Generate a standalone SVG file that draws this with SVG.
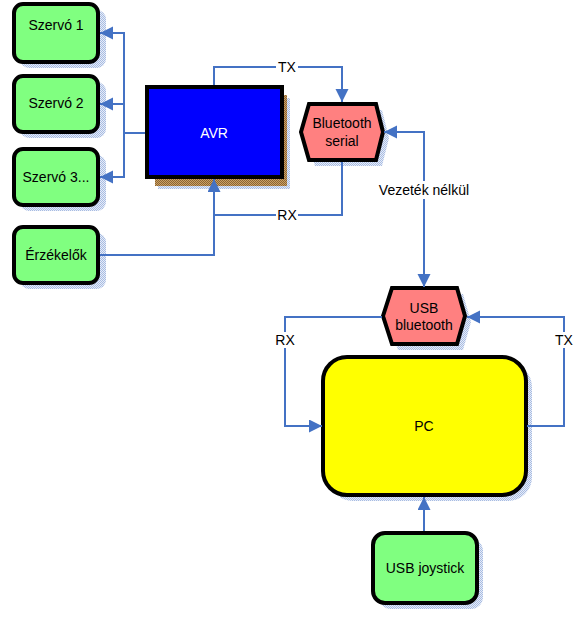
<svg xmlns="http://www.w3.org/2000/svg" width="580" height="617" viewBox="0 0 580 617">
<defs>
<pattern id="dots" width="2" height="2" patternUnits="userSpaceOnUse"><rect width="2" height="2" fill="#e6ecf8"/><rect width="1" height="1" fill="#a8bce2"/><rect x="1" y="1" width="1" height="1" fill="#a8bce2"/></pattern>
<pattern id="brown" width="2" height="2" patternUnits="userSpaceOnUse"><rect width="2" height="2" fill="#c9a265"/><rect width="1" height="1" fill="#8c6232"/><rect x="1" y="1" width="1" height="1" fill="#8c6232"/></pattern>
<marker id="ah" markerWidth="14" markerHeight="14" refX="13" refY="6.5" orient="auto-start-reverse" markerUnits="userSpaceOnUse"><path d="M0,0 L13,6.5 L0,13 Z" fill="#4472c4"/></marker>
</defs>
<style>
.box{stroke:#000;stroke-width:4}
.green{fill:#80ff80}
.sh{fill:url(#dots)}
.t{font-family:"Liberation Sans",Arial,sans-serif;font-size:14px;text-anchor:middle;fill:#000}
.w{fill:#fff}
.c{fill:none;stroke:#4472c4;stroke-width:2}
.lb{fill:#fff}
</style>
<rect width="580" height="617" fill="#fff"/>

<g id="szervo1">
<rect class="sh" x="20" y="10" width="86" height="58" rx="9"/>
<rect class="box green" x="14" y="4" width="84" height="58" rx="9"/>
<text class="t" x="56" y="30">Szervó 1</text>
</g>
<g id="szervo2">
<rect class="sh" x="20" y="82" width="86" height="56" rx="9"/>
<rect class="box green" x="14" y="76" width="84" height="56" rx="9"/>
<text class="t" x="56" y="108">Szervó 2</text>
</g>
<g id="szervo3">
<rect class="sh" x="20" y="155" width="86" height="56" rx="9"/>
<rect class="box green" x="14" y="149" width="84" height="56" rx="9"/>
<text class="t" x="56" y="182">Szervó 3...</text>
</g>
<g id="erzekelok">
<rect class="sh" x="20" y="233" width="86" height="56" rx="9"/>
<rect class="box green" x="14" y="227" width="84" height="56" rx="9"/>
<text class="t" x="56" y="260">Érzékelők</text>
</g>

<g id="avr">
<rect class="sh" x="158" y="98" width="132" height="91"/>
<rect fill="url(#brown)" x="155" y="95" width="132" height="91"/>
<rect class="box" fill="#0000ff" x="147" y="87" width="135" height="90"/>
<text class="t w" x="214" y="138">AVR</text>
</g>

<g id="bt-serial">
<polygon class="sh" points="307,138 315,110 382,110 389,138 382,166 315,166"/>
<polygon class="box" fill="#ff8080" points="301,132 309,104 376,104 383,132 376,160 309,160"/>
<text class="t" x="342" y="128">Bluetooth</text>
<text class="t" x="342" y="146">serial</text>
</g>

<g id="usb-bt">
<polygon class="sh" points="389,322 398,294 463,294 471,322 463,350 398,350"/>
<polygon class="box" fill="#ff8080" points="383,316 392,288 457,288 465,316 457,344 392,344"/>
<text class="t" x="424" y="313">USB</text>
<text class="t" x="424" y="330">bluetooth</text>
</g>

<g id="pc">
<rect class="sh" x="329" y="363" width="203" height="138" rx="24"/>
<rect class="box" fill="#ffff00" x="323" y="357" width="203" height="138" rx="24"/>
<text class="t" x="424" y="431">PC</text>
</g>

<g id="joystick">
<rect class="sh" x="379" y="539" width="104" height="70" rx="12"/>
<rect class="box green" x="373" y="533" width="104" height="70" rx="12"/>
<text class="t" x="425" y="573">USB joystick</text>
</g>

<g id="connectors">
<path class="c" d="M145,133 H124"/>
<path class="c" d="M124,133 V33 H100" marker-end="url(#ah)"/>
<path class="c" d="M124,104 H100" marker-end="url(#ah)"/>
<path class="c" d="M124,133 V177 H100" marker-end="url(#ah)"/>
<path class="c" d="M214,85 V67 H342 V102" marker-end="url(#ah)"/>
<path class="c" d="M342,162 V215 H214 V179" marker-end="url(#ah)"/>
<path class="c" d="M100,255 H214 V215"/>
<path class="c" d="M384,132 H424 V287" marker-start="url(#ah)" marker-end="url(#ah)"/>
<path class="c" d="M382,317 H285 V426 H322" marker-end="url(#ah)"/>
<path class="c" d="M527,426 H564 V317 H467" marker-end="url(#ah)"/>
<path class="c" d="M424,531 V497" marker-end="url(#ah)"/>
<rect class="lb" x="276" y="59" width="22" height="16"/>
<text class="t" x="287" y="72">TX</text>
<rect class="lb" x="276" y="207" width="22" height="16"/>
<text class="t" x="287" y="220">RX</text>
<rect class="lb" x="376" y="181" width="96" height="18"/>
<text class="t" x="424" y="195">Vezeték nélkül</text>
<rect class="lb" x="274" y="332" width="22" height="16"/>
<text class="t" x="285" y="345">RX</text>
<rect class="lb" x="553" y="332" width="22" height="16"/>
<text class="t" x="564" y="345">TX</text>
</g>
</svg>
